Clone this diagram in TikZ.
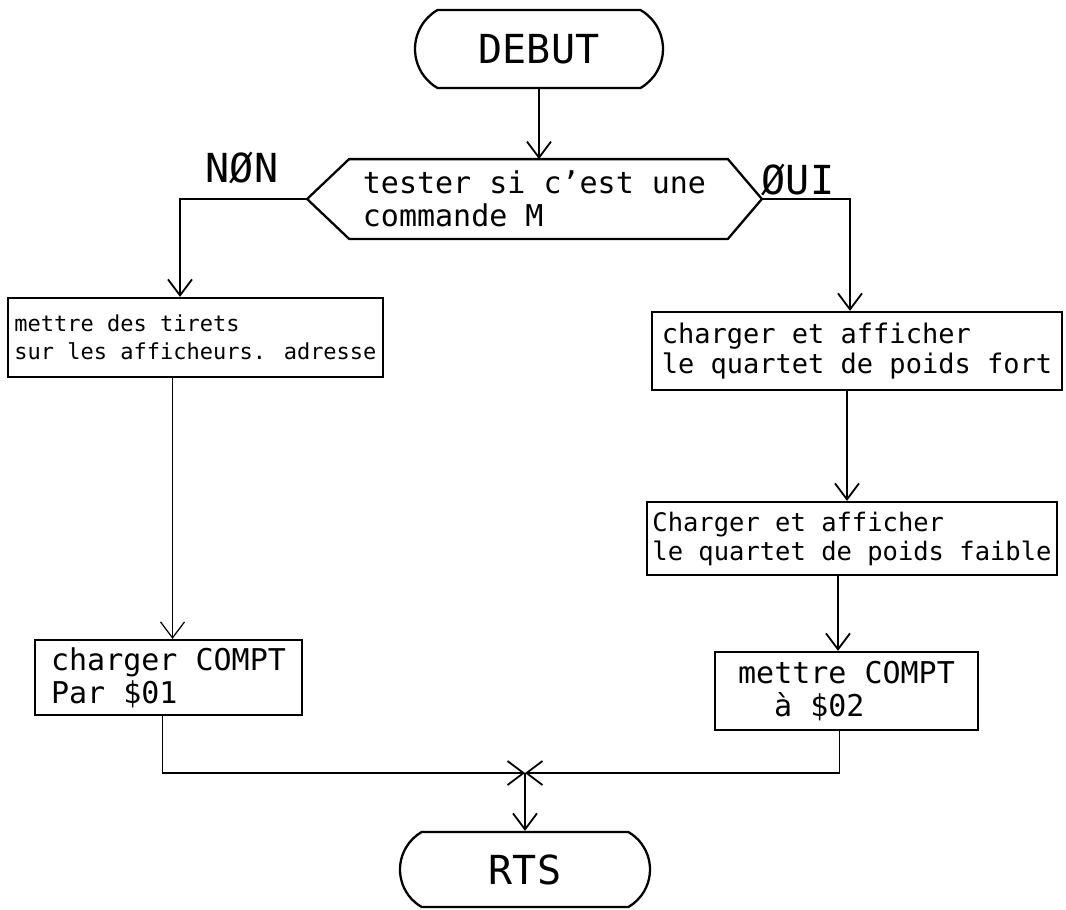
\documentclass[tikz,border=0pt]{standalone}
\usepackage{fontspec}
\setmainfont{DejaVu Sans Mono}
\usetikzlibrary{arrows.meta,shapes.misc}
\begin{document}
\begin{tikzpicture}[x=1pt,y=-1pt,
  line width=1.8pt,
  txt/.style 2 args={font=\fontsize{#1}{#2}\selectfont},
  proc/.style={draw, line width=2.3pt, rectangle, inner sep=0pt, align=left},
  term/.style={draw, line width=2.3pt, rounded rectangle, rounded rectangle arc length=120,
    inner sep=0pt, font=\fontsize{40}{44}\selectfont},
  flow/.style={-{Straight Barb[length=16pt,width=24pt]}},
  lbl/.style={font=\fontsize{40}{44}\selectfont}]
\useasboundingbox (0,0) rectangle (1066,910);

% terminals
\node[term, minimum width=248pt, minimum height=78pt] (debut) at (539,49) {DEBUT};
\node[term, minimum width=250pt, minimum height=75pt] (rts) at (525,869.5) {RTS};

% decision
\node[align=left, inner sep=0pt, minimum width=453pt, minimum height=78pt, txt={30}{33}]
  (test) at (534.5,199) {tester si c'est une\\commande M};
\draw[line width=2.3pt] (test.west) -- ([xshift=42]test.north west) -- ([xshift=-34]test.north east)
  -- (test.east) -- ([xshift=-34]test.south east) -- ([xshift=42]test.south west) -- cycle;

% process boxes
\node[proc, minimum width=375pt, minimum height=79pt, txt={22}{28}]
  (box1L) at (195.5,337.5) {mettre des tirets\\sur les afficheurs. adresse};
\node[proc, minimum width=267pt, minimum height=75pt, txt={30}{33}]
  (box2L) at (168.5,677.5) {charger COMPT\\Par \$01};
\node[proc, minimum width=410pt, minimum height=78pt, txt={27}{30}]
  (box1R) at (857,351) {charger et afficher\\le quartet de poids fort};
\node[proc, minimum width=410pt, minimum height=73pt, txt={25.5}{29}]
  (box2R) at (852,538.5) {Charger et afficher\\le quartet de poids faible};
\node[proc, minimum width=263pt, minimum height=78pt, txt={30}{33}]
  (box3R) at (846.5,691) {mettre COMPT\\\hspace*{1.2em}à \$02};

% branch labels
\node[lbl] (non) at (242,168) {NØN};
\node[lbl] (oui) at (798,180) {ØUI};

% connectors
\draw[flow] (debut.south) -- (debut.south |- test.north);
\draw[flow] (test.west) -| ([xshift=-15.5]box1L.north);
\draw[flow] (test.east) -| ([xshift=-7]box1R.north);
\draw[flow, line width=1.2pt] ([xshift=-23]box1L.south) -- ([xshift=-23]box1L.south |- box2L.north);
\draw[flow] ([xshift=-10]box1R.south) -- ([xshift=-10]box1R.south |- box2R.north);
\draw[flow] ([xshift=-14]box2R.south) -- ([xshift=-14]box2R.south |- box3R.north);

\coordinate (join) at (525,773);
\draw[flow] ([xshift=-6]box2L.south) |- (join);
\draw[flow] ([xshift=-7]box3R.south) |- (join);
\draw[flow] (join) -- (join |- rts.north);
\end{tikzpicture}
\end{document}
